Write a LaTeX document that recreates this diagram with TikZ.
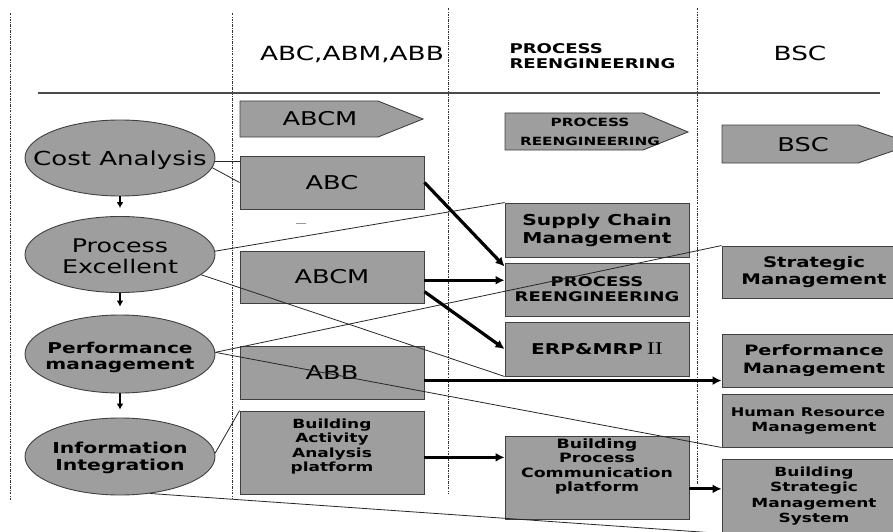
\documentclass[tikz,border=0pt]{standalone}
\usepackage{fontspec}
\setmainfont{DejaVu Sans}[FakeStretch=1.35]
\newfontfamily\romnum{Liberation Serif}[FakeStretch=1.35]
\usetikzlibrary{arrows.meta,shapes.geometric,positioning}
\newcommand{\fsz}[2]{\fontsize{#1}{#2}\selectfont}

\begin{document}
\begin{tikzpicture}[x=1pt,y=-1pt,>=Stealth,
  cellbox/.style={draw=black!75,line width=0.9pt,fill=black!38,minimum width=184pt,inner sep=0pt,align=center},
  ovalnode/.style={ellipse,draw=black!75,line width=0.9pt,fill=black!38,minimum width=190pt,minimum height=76pt,inner sep=0pt},
  tagshape/.style={draw=black!75,line width=0.9pt,fill=black!38},
  thinlink/.style={black!85,line width=0.8pt},
  thickflow/.style={-{Latex[length=9pt,width=9pt]},line width=3.2pt},
  downarr/.style={-{Latex[length=6pt,width=7pt]},line width=1.8pt,shorten >=8pt},
  colsep/.style={black!80,line width=0.9pt,dash pattern=on 2.5pt off 1.2pt on 0.8pt off 1.2pt}]
\clip (0,0) rectangle (893,532);
% column separators and header rule
\foreach \x/\yt/\yb in {10/13/500,232/13/498,448/8/494,697/8/484}
  \draw[colsep] (\x,\yt) -- (\x,\yb);
\draw[black!70,line width=1.1pt] (38,93) -- (880,93);
% headers
\node[font=\fsz{19.5}{22}] (hAbc) at (352,54) {ABC,ABM,ABB};
\node[font=\fsz{13.4}{15}\bfseries,align=left,anchor=west] (hPr) at (506,56) {PROCESS\\REENGINEERING};
\node[font=\fsz{19.5}{22}] (hBsc) at (800,53) {BSC};
% tag arrows
\filldraw[tagshape] (240,101) -- (378,101) -- (423,119) -- (378,137) -- (240,137) -- cycle;
\node[font=\fsz{19}{22}] (tAbcm) at (320,119) {ABCM};
\filldraw[tagshape] (505,113) -- (643,113) -- (688,132) -- (643,150) -- (505,150) -- cycle;
\node[font=\fsz{11.3}{19}\bfseries,align=center] (tPr) at (590,132) {PROCESS\\REENGINEERING};
\filldraw[tagshape] (722,125) -- (858,125) -- (913,144) -- (858,163) -- (722,163) -- cycle;
\node[font=\fsz{19}{22}] (tBsc) at (803,145) {BSC};
% ellipses
\node[ovalnode] (cost) at (120,158) {};
\node[ovalnode] (proc) at (120,254.5) {};
\node[ovalnode,minimum height=78pt] (perf) at (120,354) {};
\node[ovalnode,minimum height=77pt] (info) at (120,456.5) {};
\node[font=\fsz{19.3}{22},yshift=-2.5pt] (costTxt) at (cost) {Cost Analysis};
\node[font=\fsz{18.8}{21},align=center,yshift=-2pt] (procTxt) at (proc) {Process\\Excellent};
\node[font=\fsz{14.9}{16}\bfseries,align=center,yshift=-3pt] (perfTxt) at (perf) {Performance\\management};
\node[font=\fsz{15.1}{17}\bfseries,align=center,yshift=-1pt] (infoTxt) at (info) {Information\\Integration};
\foreach \a/\b in {cost/proc,proc/perf,perf/info}
  \draw[downarr] (\a.south) -- (\b.north);
% ABC column
\node[cellbox,minimum height=53pt,font=\fsz{19}{22}] (abc) at (332,182.5) {ABC};
\node[cellbox,minimum height=52pt,font=\fsz{19}{22}] (abcm) at (332,277) {ABCM};
\node[cellbox,minimum height=53pt,font=\fsz{19}{22}] (abb) at (332,372.5) {ABB};
\node[cellbox,minimum height=83pt,text depth=15pt,font=\fsz{12.6}{14.5}\bfseries] (baa) at (332,452.5) {Building\\Activity\\Analysis\\platform};
\draw[black!40,line width=1pt] (296,223) -- (306,223);
% reengineering column
\node[cellbox,minimum height=54pt,font=\fsz{15}{18}\bfseries] (scm) at (597,230) {Supply Chain\\Management};
\node[cellbox,minimum height=53pt,font=\fsz{13.3}{15}\bfseries] (pr) at (597,289.5) {PROCESS\\REENGINEERING};
\node[cellbox,minimum height=54pt,font=\fsz{14.9}{18}\bfseries] (erp) at (597,349) {ERP\&MRP\hspace{4pt}{\romnum\mdseries\fontsize{18}{20}\selectfont II}};
\node[cellbox,minimum height=83pt,text depth=25pt,font=\fsz{12.85}{14.5}\bfseries] (bpc) at (597,477.5) {Building\\Process\\Communication\\platform};
% BSC column
\node[cellbox,minimum height=52pt,font=\fsz{14.6}{17.5}\bfseries] (strat) at (814,272) {Strategic\\Management};
\node[cellbox,minimum height=53pt,font=\fsz{14.3}{17.5}\bfseries] (perfm) at (814,360.5) {Performance\\Management};
\node[cellbox,minimum height=53pt,font=\fsz{12.6}{15}\bfseries] (hrm) at (814,420.5) {{\fsz{12}{15}Human Resource\hspace*{12pt}}\\Management};
\node[cellbox,minimum height=74pt,font=\fsz{12.6}{15.5}\bfseries] (bsms) at (814,496) {Building\\Strategic\\Management\\System};
% thin links
\draw[thinlink] (cost.-2) -- (cost.-2 -| abc.west);
\draw[thinlink] (cost.-6) -- (abc.west);
\draw[thinlink] (proc.2) -- (scm.north west);
\draw[thinlink] (proc.-14) -- (erp.south west);
\draw[thinlink] (perf.1) -- (strat.north west);
\draw[thinlink] (perf.1) -- (hrm.south west);
\draw[thinlink] (info.2) -- (baa.north west);
\draw[thinlink] (info.-51) -- (bsms.south west);
% thick flows
\draw[thickflow] (abc.east) -- (pr.166);
\draw[thickflow] (abcm.-2) -- (abcm.-2 -| pr.west);
\draw[thickflow] (abcm.-9) -- (erp.west);
\draw[thickflow] (abb.-5) -- (abb.-5 -| perfm.west);
\draw[thickflow] (baa.-3) -- (baa.-3 -| bpc.west);
\draw[thickflow] (bpc.-7) -- (bpc.-7 -| bsms.west);
\end{tikzpicture}
\end{document}
